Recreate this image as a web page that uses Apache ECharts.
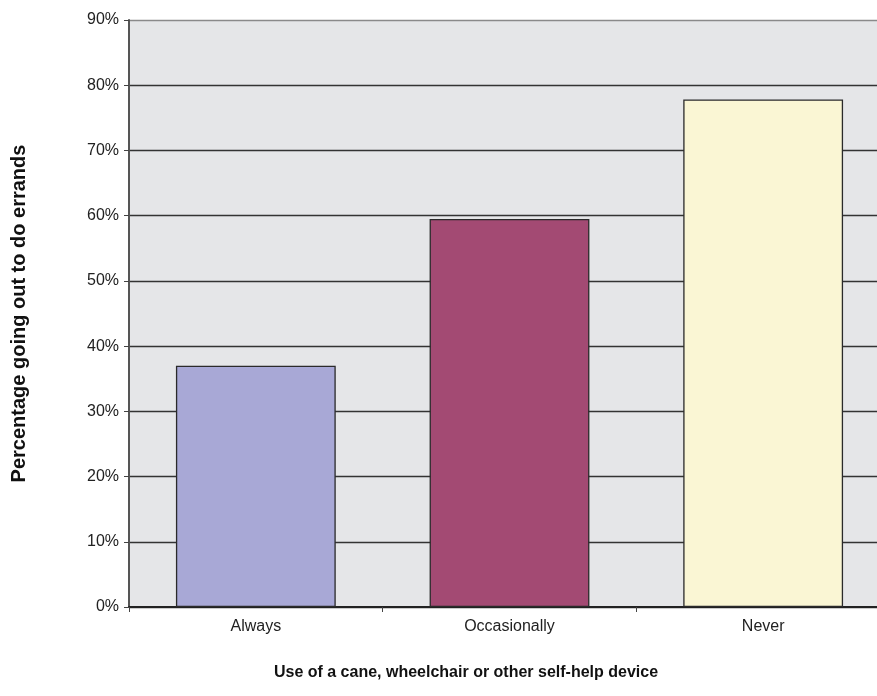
<!DOCTYPE html>
<html><head><meta charset="utf-8">
<script src="https://cdn.jsdelivr.net/npm/echarts@6/dist/echarts.min.js"></script>
<style>html,body{margin:0;padding:0;background:#fff;overflow:hidden;width:877px;height:696px}#c{width:890px;height:696px}</style>
</head><body><div id="c"></div>
<script>
const categories = ['Always', 'Occasionally', 'Never'];
const values = [37.0, 59.5, 77.8];
const barColors = ['#a8a8d6', '#a34a73', '#faf6d4'];
const yTicks = [0, 10, 20, 30, 40, 50, 60, 70, 80, 90];

const FONT = '"Liberation Sans", Arial, sans-serif';
const chart = echarts.init(document.getElementById('c'), null, {renderer: 'canvas'});
chart.setOption({
  animation: false,
  grid: {left: 129, top: 20, bottom: 89, right: 0, show: true, backgroundColor: '#e5e6e8', borderWidth: 0},
  xAxis: {
    type: 'category', data: categories,
    name: 'Use of a cane, wheelchair or other self-help device',
    nameLocation: 'middle', nameGap: 58,
    nameTextStyle: {fontFamily: FONT, fontWeight: 'bold', fontSize: 16, color: '#111', padding: [0, 87, 0, 0]},
    axisLine: {lineStyle: {color: '#222', width: 2}},
    axisTick: {show: true, length: 5, lineStyle: {color: '#444'}},
    axisLabel: {fontFamily: FONT, fontSize: 16, color: '#222', margin: 12}
  },
  yAxis: {
    type: 'value', min: 0, max: 90, interval: 10,
    name: 'Percentage going out to do errands',
    nameLocation: 'middle', nameGap: 100,
    nameTextStyle: {fontFamily: FONT, fontWeight: 'bold', fontSize: 20, color: '#111'},
    axisLine: {show: true, lineStyle: {color: '#555', width: 2}},
    axisTick: {show: true, length: 5, lineStyle: {color: '#444'}},
    axisLabel: {fontFamily: FONT, fontSize: 16, color: '#222', margin: 10,
      formatter: v => yTicks.includes(v) ? v + '%' : ''},
    splitLine: {lineStyle: {color: ['#333', '#333', '#333', '#333', '#333', '#333', '#333', '#333', '#333', '#8a8a8a'], width: 1.3}}
  },
  series: [{
    type: 'bar', barWidth: '63%',
    data: values.map((v, i) => ({value: v, itemStyle: {color: barColors[i]}})),
    itemStyle: {borderColor: '#2a2a2a', borderWidth: 1.3}
  }]
});
</script></body></html>
